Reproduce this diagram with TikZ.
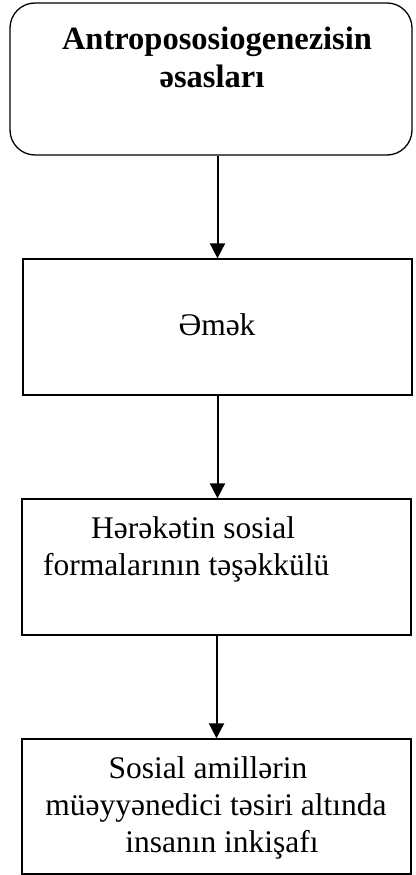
\documentclass[tikz,border=0pt]{standalone}
\usepackage{fontspec}
\setmainfont{Liberation Serif}
\usetikzlibrary{arrows.meta}
\begin{document}
\begin{tikzpicture}[x=1pt,y=-1pt,
  boxstyle/.style={draw=black,line width=1.3pt,inner sep=0pt,minimum width=389pt,minimum height=136pt},
  txt/.style={inner sep=0pt,anchor=base,font=\fontsize{31.5}{37}\selectfont},
  txtl/.style={inner sep=0pt,anchor=base west,font=\fontsize{31.5}{37}\selectfont},
  ttl/.style={inner sep=0pt,anchor=base,font=\fontsize{32.5}{37}\selectfont\bfseries},
  arr/.style={line width=2pt,-{Triangle[width=15pt,length=15pt]}}]
\useasboundingbox (0,0) rectangle (415,875);
\node[boxstyle,rounded corners=25pt,minimum width=402pt,minimum height=152pt] (b1) at (211,79) {};
\node[boxstyle] (b2) at (217.5,327) {};
\node[boxstyle] (b3) at (216.5,567) {};
\node[boxstyle,minimum height=135pt] (b4) at (216.5,806.5) {};
\node[ttl] (t1a) at (217,50) {Antropososiogenezisin};
\node[ttl] (t1b) at (212,87) {əsasları};
\node[txt] (t2) at (217,335) {Əmək};
\node[txtl] (t3a) at (91,538) {Hərəkətin sosial};
\node[txtl] (t3b) at (43,575) {formalarının təşəkkülü};
\node[txt] (t4a) at (208,778) {Sosial amillərin};
\node[txt] (t4b) at (216,815) {müəyyənedici təsiri altında};
\node[txt] (t4c) at (222,852) {insanın inkişafı};
\draw[arr] (b2.north |- b1.south) -- (b2.north);
\draw[arr] (b2.south) -- (b3.north -| b2.south);
\draw[arr] (b3.south) -- (b4.north);
\end{tikzpicture}
\end{document}
